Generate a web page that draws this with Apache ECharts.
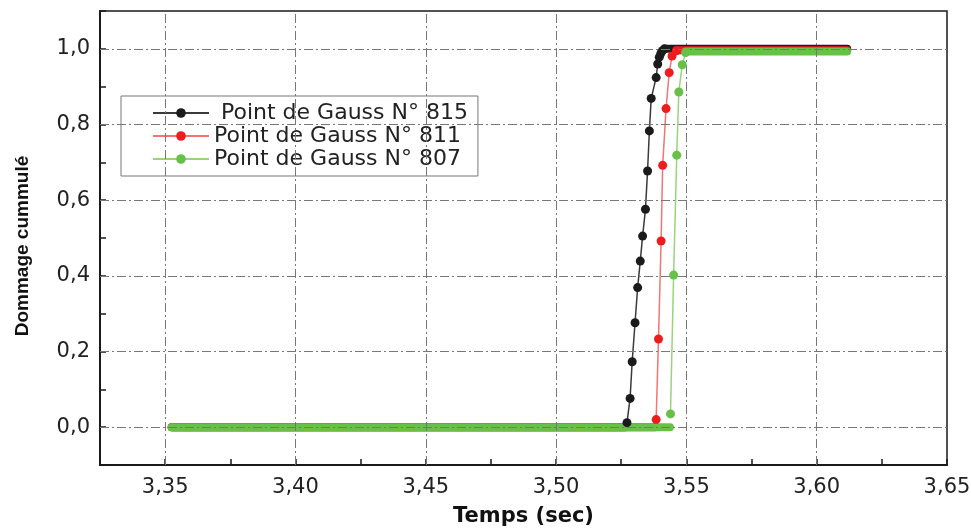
<!DOCTYPE html>
<html>
<head>
<meta charset="utf-8">
<script src="https://cdn.jsdelivr.net/npm/echarts@6/dist/echarts.min.js"></script>
<style>
html,body{margin:0;padding:0;background:#fff;}
#chart{width:971px;height:530px;}
</style>
</head>
<body>
<div id="chart"></div>
<script>
// ---- data ----
const seriesNames = [' Point de Gauss N° 815', 'Point de Gauss N° 811', 'Point de Gauss N° 807'];
const xTickValues = [3.35, 3.40, 3.45, 3.50, 3.55, 3.60, 3.65];
const xTickLabels = ['3,35', '3,40', '3,45', '3,50', '3,55', '3,60', '3,65'];
const yTickValues = [0.0, 0.2, 0.4, 0.6, 0.8, 1.0];
const yTickLabels = ['0,0', '0,2', '0,4', '0,6', '0,8', '1,0'];

// rising parts (time, damage)
const rise815 = [[3.5272,0.012],[3.5284,0.076],[3.5292,0.173],[3.5303,0.276],[3.5313,0.369],[3.5323,0.439],[3.5332,0.505],[3.5343,0.576],[3.5351,0.677],[3.5358,0.783],[3.5365,0.869],[3.5384,0.924],[3.5390,0.960],[3.5396,0.978],[3.5402,0.988],[3.5408,0.995],[3.5416,1.0]];
const rise811 = [[3.5384,0.020],[3.5393,0.233],[3.5403,0.492],[3.5409,0.692],[3.5422,0.842],[3.5434,0.937],[3.5445,0.981],[3.5462,0.995]];
const rise807 = [[3.5439,0.035],[3.5451,0.402],[3.5463,0.719],[3.5471,0.886],[3.5484,0.958],[3.5497,0.990]];

// dense plateau segments (start, end)
const low815 = [[3.3525,0],[3.5265,0]];
const high815 = [[3.5416,1.0],[3.6117,1.0]];
const low811 = [[3.3525,0],[3.5380,0]];
const high811 = [[3.5462,0.996],[3.6117,0.996]];
const low807 = [[3.3525,0],[3.5437,0]];
const high807 = [[3.5497,0.993],[3.6117,0.993]];

const xGridValues = [3.35, 3.40, 3.45, 3.50, 3.55, 3.60];
const yGridValues = [0.0, 0.2, 0.4, 0.6, 0.8, 1.0];

// ---- styles ----
const dotColors = ['#1b1b1b', '#ee1d1d', '#68c147'];
const lineColors = ['#3a3a3a', '#f27474', '#98d47a'];

function findLabel(v, vals, labels) {
  for (let i = 0; i < vals.length; i++) {
    if (Math.abs(v - vals[i]) < 1e-6) return labels[i];
  }
  return '';
}

function plateau(data, idx) {
  return {
    type: 'line', data: data, symbol: 'none', silent: true, z: 2,
    lineStyle: { color: dotColors[idx], width: 8, cap: 'round' },
    legendHoverLink: false
  };
}
function rising(name, data, idx) {
  return {
    name: name, type: 'line', data: data, symbol: 'circle', symbolSize: 9, z: 3 + idx,
    itemStyle: { color: dotColors[idx] },
    lineStyle: { color: lineColors[idx], width: 1.5 }
  };
}

const chart = echarts.init(document.getElementById('chart'));
chart.setOption({
  animation: false,
  backgroundColor: '#fff',
  grid: { left: 100, right: 24, top: 11, bottom: 65, show: true, borderColor: '#1a1a1a', borderWidth: 1.5, outerBoundsMode: 'none' },
  legend: {
    data: seriesNames,
    orient: 'vertical', left: 121, top: 96,
    padding: [6, 10, 6, 31], itemGap: 1,
    itemWidth: 56, itemHeight: 12,
    borderColor: '#777', borderWidth: 1, backgroundColor: '#fff',
    textStyle: { fontFamily: 'DejaVu Sans', fontSize: 22, color: '#222', lineHeight: 22 }
  },
  xAxis: {
    type: 'value', min: 3.325, max: 3.65, interval: 0.025,
    name: 'Temps (sec)', nameLocation: 'middle', nameGap: 41,
    nameTextStyle: { fontFamily: 'DejaVu Sans', fontWeight: 'bold', fontSize: 21, color: '#111' },
    axisLine: { onZero: false, lineStyle: { color: '#1a1a1a', width: 2 } },
    axisTick: { inside: true, length: 6, lineStyle: { color: '#1a1a1a', width: 1.5 } },
    axisLabel: { margin: 12, fontFamily: 'DejaVu Sans', fontSize: 21, color: '#222', showMinLabel: true, showMaxLabel: true,
      formatter: v => findLabel(v, xTickValues, xTickLabels) },
    splitLine: { show: false }
  },
  yAxis: {
    type: 'value', min: -0.1, max: 1.1, interval: 0.1,
    name: 'Dommage cummulé', nameLocation: 'middle', nameGap: 68, nameRotate: 90,
    nameTextStyle: { fontFamily: 'Liberation Sans', fontWeight: 'bold', fontSize: 19, color: '#111', padding: [0, 16, 0, 0] },
    axisLine: { onZero: false, lineStyle: { color: '#1a1a1a', width: 2 } },
    axisTick: { inside: true, length: 6, lineStyle: { color: '#1a1a1a', width: 1.5 } },
    axisLabel: { margin: 10, fontFamily: 'DejaVu Sans', fontSize: 21, color: '#222',
      formatter: v => findLabel(v, yTickValues, yTickLabels) },
    splitLine: { show: false }
  },
  series: [
    {
      type: 'line', data: [], silent: true, z: 1,
      markLine: {
        silent: true, symbol: 'none', label: { show: false }, animation: false,
        lineStyle: { color: '#777', width: 1, type: [9, 3, 2, 3] },
        data: xGridValues.map(v => ({ xAxis: v })).concat(yGridValues.map(v => ({ yAxis: v })))
      }
    },
    plateau(low815, 0), plateau(high815, 0),
    plateau(low811, 1), plateau(high811, 1),
    plateau(low807, 2), plateau(high807, 2),
    rising(seriesNames[0], rise815, 0),
    rising(seriesNames[1], rise811, 1),
    rising(seriesNames[2], rise807, 2)
  ]
});
</script>
</body>
</html>
